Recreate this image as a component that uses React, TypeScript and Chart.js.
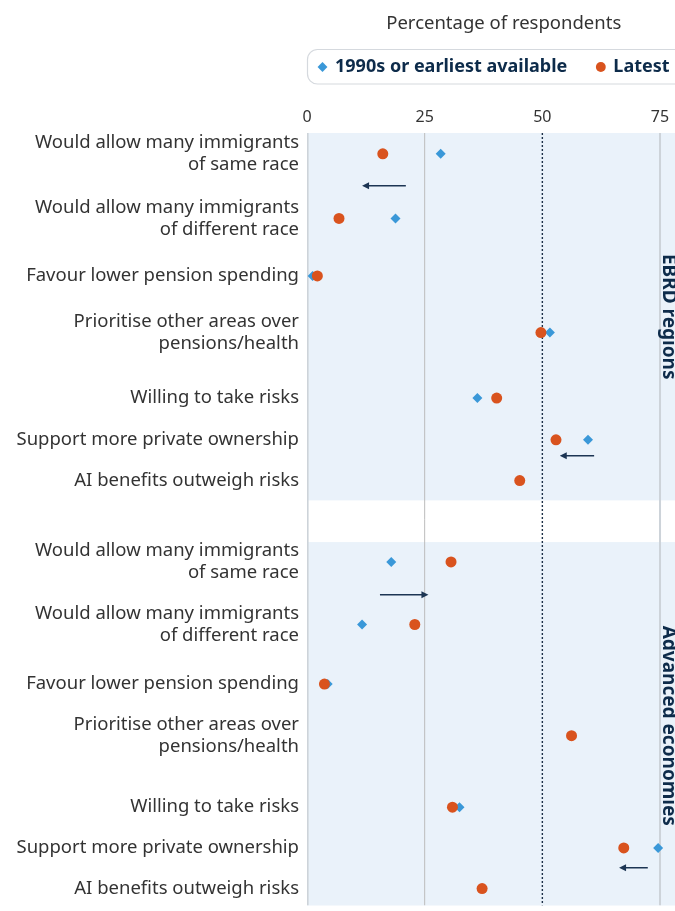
import { useEffect, useRef } from "react";
import { Chart, registerables } from "chart.js";

Chart.register(...registerables);

// ---------- data ----------
const categories: (string | string[])[] = [
  ["Would allow many immigrants", "of same race"],
  ["Would allow many immigrants", "of different race"],
  "Favour lower pension spending",
  ["Prioritise other areas over", "pensions/health"],
  "Willing to take risks",
  "Support more private ownership",
  "AI benefits outweigh risks",
];
const panelNames = ["EBRD regions", "Advanced economies"];
const seriesNames = ["1990s or earliest available", "Latest"];

const ebrdEarliest: (number | null)[] = [28.4, 18.8, 1.2, 51.6, 36.2, 59.7, null];
const ebrdLatest: (number | null)[] = [16.1, 6.8, 2.2, 49.7, 40.3, 52.9, 45.2];
const advEarliest: (number | null)[] = [17.9, 11.7, 4.4, null, 32.4, 74.6, null];
const advLatest: (number | null)[] = [30.6, 22.9, 3.7, 56.2, 30.9, 67.3, 37.2];

// row positions on the (reversed) vertical value axis
const ebrdRowPos = [21, 86, 144, 201, 267, 309, 350];
const advRowPos = [432, 495, 555, 607, 679, 720, 761];
const panelBands: [number, number][] = [
  [0, 370],
  [412, 782],
];

// change arrows
const arrowRowPos = [53, 325, 465, 740];
const arrowFrom = [21.0, 61.0, 15.5, 72.4];
const arrowTo = [11.7, 53.7, 25.8, 66.3];

const xTicks = [0, 25, 50, 75];
const X_MAX = 83.6;
const Y_MAX = 778;

// ---------- styles ----------
const FONT = "'Noto Sans', sans-serif";
const NAVY = "#0d2b4a";
const BLUE = "#3a98d8";
const ORANGE = "#d9531e";
const PANEL_BG = "#eaf2fa";

const rowPos = [...ebrdRowPos, ...advRowPos];
const rowLabels = [...categories, ...categories];

function toPoints(vals: (number | null)[], pos: number[]) {
  const out: { x: number; y: number }[] = [];
  vals.forEach((v, i) => {
    if (v !== null && v !== undefined) out.push({ x: v, y: pos[i] });
  });
  return out;
}

const decorPlugin = {
  id: "decor",
  beforeDatasetsDraw(chart: any) {
    const { ctx, chartArea: a } = chart;
    const xs = chart.scales.x;
    const ys = chart.scales.y;
    ctx.save();
    ctx.beginPath();
    ctx.rect(a.left, a.top, a.right - a.left, a.bottom - a.top);
    ctx.clip();

    // panel backgrounds
    ctx.fillStyle = PANEL_BG;
    panelBands.forEach(([s, e]) => {
      const y0 = ys.getPixelForValue(s);
      const y1 = ys.getPixelForValue(e);
      ctx.fillRect(a.left, y0, a.right - a.left, y1 - y0);
    });

    // reference lines
    const lines = [
      { v: 0, color: "#cdd3d9", w: 1.6, dash: [] as number[] },
      { v: 25, color: "#bcbcbc", w: 1, dash: [] as number[] },
      { v: 50, color: "#1d3047", w: 1.4, dash: [2, 2] },
      { v: 75, color: "#cdd3d9", w: 2, dash: [] as number[] },
    ];
    lines.forEach((l) => {
      const px = xs.getPixelForValue(l.v) + (l.v === 0 ? 0.8 : 0);
      ctx.beginPath();
      ctx.setLineDash(l.dash);
      ctx.strokeStyle = l.color;
      ctx.lineWidth = l.w;
      ctx.moveTo(px, a.top);
      ctx.lineTo(px, a.bottom);
      ctx.stroke();
    });
    ctx.setLineDash([]);

    // arrows
    ctx.strokeStyle = "#1c3553";
    ctx.fillStyle = "#1c3553";
    ctx.lineWidth = 1.5;
    arrowRowPos.forEach((r, i) => {
      const py = ys.getPixelForValue(r);
      const x0 = xs.getPixelForValue(arrowFrom[i]);
      const x1 = xs.getPixelForValue(arrowTo[i]);
      const dir = x1 > x0 ? 1 : -1;
      ctx.beginPath();
      ctx.moveTo(x0, py);
      ctx.lineTo(x1 - dir * 4, py);
      ctx.stroke();
      ctx.beginPath();
      ctx.moveTo(x1, py);
      ctx.lineTo(x1 - dir * 7, py - 3.5);
      ctx.lineTo(x1 - dir * 7, py + 3.5);
      ctx.closePath();
      ctx.fill();
    });

    // panel labels (rotated)
    ctx.fillStyle = NAVY;
    ctx.font = `bold 19px ${FONT}`;
    ctx.textAlign = "center";
    ctx.textBaseline = "alphabetic";
    panelBands.forEach(([s, e], i) => {
      const cy = (ys.getPixelForValue(s) + ys.getPixelForValue(e)) / 2;
      const cx = xs.getPixelForValue(75) + 3;
      ctx.save();
      ctx.translate(cx, cy);
      ctx.rotate(Math.PI / 2);
      ctx.fillText(panelNames[i], 0, 0);
      ctx.restore();
    });
    ctx.restore();
  },
  afterDraw(chart: any) {
    const lg = chart.legend;
    if (!lg) return;
    const ctx = chart.ctx;
    ctx.save();
    ctx.strokeStyle = "#d5d9de";
    ctx.lineWidth = 1.2;
    ctx.beginPath();
    (ctx as any).roundRect(lg.left + 0.5, lg.top + 3.5, lg.right - lg.left + 20, lg.bottom - lg.top - 5.5, 10);
    ctx.stroke();
    ctx.restore();
  },
};

export default function App() {
  const ref = useRef<HTMLCanvasElement | null>(null);

  useEffect(() => {
    if (!ref.current) return;
    const chart = new Chart(ref.current, {
      type: "scatter",
      data: {
        datasets: [
          {
            label: seriesNames[0],
            data: [...toPoints(ebrdEarliest, ebrdRowPos), ...toPoints(advEarliest, advRowPos)],
            pointStyle: "rectRot",
            pointRadius: 5,
            backgroundColor: BLUE,
            borderColor: BLUE,
            borderWidth: 0,
            order: 1,
          },
          {
            label: seriesNames[1],
            data: [...toPoints(ebrdLatest, ebrdRowPos), ...toPoints(advLatest, advRowPos)],
            pointStyle: "circle",
            pointRadius: 5.5,
            backgroundColor: ORANGE,
            borderColor: ORANGE,
            borderWidth: 0,
            order: 0,
          },
        ],
      },
      options: {
        animation: false,
        responsive: false,
        events: [],
        layout: { padding: 0 },
        plugins: {
          title: {
            display: true,
            text: "Percentage of respondents",
            fullSize: false,
            color: "#333333",
            font: { family: FONT, size: 18.5, weight: "normal" },
            padding: { top: 13, bottom: 10.8 },
          },
          legend: {
            display: true,
            position: "top",
            fullSize: false,
            align: "start",
            labels: {
              usePointStyle: true,
              boxWidth: 7,
              boxHeight: 7,
              padding: 12,
              color: NAVY,
              font: { family: FONT, size: 18, weight: "bold" },
              sort: (a: any, b: any) => a.datasetIndex - b.datasetIndex,
              generateLabels: (chart: any) => {
                const items = Chart.defaults.plugins.legend.labels.generateLabels(chart);
                return items.map((it: any) => ({
                  ...it,
                  text: it.datasetIndex === 0 ? it.text + "\u2002\u2005\u2005" : it.text,
                }));
              },
            },
          },
          tooltip: { enabled: false },
        },
        scales: {
          x: {
            type: "linear",
            position: "top",
            min: 0,
            max: X_MAX,
            grid: { display: false, drawTicks: false },
            border: { display: false },
            ticks: { font: { family: FONT, size: 16 }, color: "#333333", padding: 6 },
            afterBuildTicks: (s: any) => {
              s.ticks = xTicks.map((v) => ({ value: v }));
            },
            afterFit: (s: any) => {
              s.height = 47;
              s.paddingLeft = 0;
              s.paddingRight = 0;
            },
          },
          y: {
            type: "linear",
            reverse: true,
            min: 0,
            max: Y_MAX,
            grid: { display: false, drawTicks: false },
            border: { display: false },
            ticks: {
              autoSkip: false,
              font: { family: FONT, size: 18.5, lineHeight: 1.2 },
              color: "#333333",
              padding: 8,
              callback: (_v: any, i: number) => rowLabels[i] as any,
            },
            afterBuildTicks: (s: any) => {
              s.ticks = rowPos.map((v) => ({ value: v }));
            },
            afterFit: (s: any) => {
              s.width = 307;
              s.paddingTop = 0;
              s.paddingBottom = 0;
            },
          },
        },
      } as any,
      plugins: [decorPlugin],
    });
    return () => chart.destroy();
  }, []);

  return (
    <div
      style={{
        position: "fixed",
        left: 0,
        top: 0,
        width: 675,
        height: 911,
        overflow: "hidden",
        background: "#ffffff",
      }}
    >
      <canvas ref={ref} width={706} height={911} style={{ width: 706, height: 911, display: "block" }} />
    </div>
  );
}
